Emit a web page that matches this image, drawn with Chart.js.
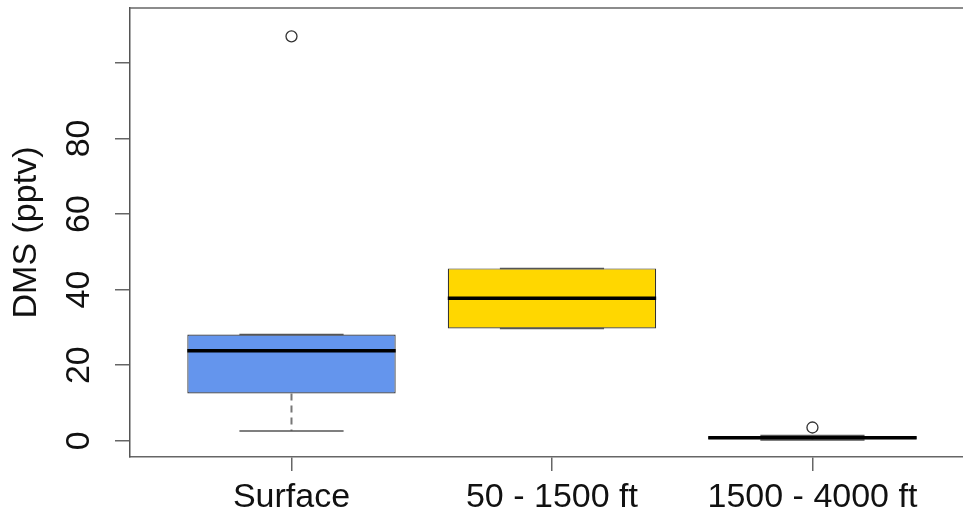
<!DOCTYPE html>
<html>
<head>
<meta charset="utf-8">
<script src="https://cdn.jsdelivr.net/npm/chart.js@4/dist/chart.umd.min.js"></script>
<style>
  html, body { margin: 0; padding: 0; background: #fff; }
</style>
</head>
<body>
<canvas id="grafico" width="963" height="515"></canvas>
<script>
const categorias = ["Surface", "50 - 1500 ft", "1500 - 4000 ft"];
const posicoes = [1, 2, 3];
const q1 = [12.5, 29.7, 0.4];
const mediana = [23.8, 37.7, 0.8];
const q3 = [28.1, 45.6, 1.2];
const bigodeMin = [2.6, 29.7, 0.2];
const bigodeMax = [28.1, 45.6, 1.4];
const outlierPos = [1, 3];
const outlierVal = [107, 3.5];
const yTicks = [0, 20, 40, 60, 80, 100];
const cores = ["#6495ED", "#FFD700", "#888888"];

const fonte = { family: "'Liberation Sans', Arial, sans-serif", size: 34 };

// mediana, bigodes e moldura
const extrasBoxplot = {
  id: "extrasBoxplot",
  afterDatasetsDraw(chart) {
    const { ctx, chartArea, scales: { x, y } } = chart;
    const passo = x.getPixelForValue(2) - x.getPixelForValue(1);
    const meiaCaixa = passo * 0.8 / 2;
    const meiaHaste = meiaCaixa / 2;
    ctx.save();
    posicoes.forEach((p, i) => {
      const cx = x.getPixelForValue(p);
      // bigodes tracejados
      ctx.strokeStyle = "#777";
      ctx.lineWidth = 2;
      ctx.setLineDash([7, 5]);
      ctx.beginPath();
      ctx.moveTo(cx, y.getPixelForValue(q1[i]));
      ctx.lineTo(cx, y.getPixelForValue(bigodeMin[i]));
      ctx.moveTo(cx, y.getPixelForValue(q3[i]));
      ctx.lineTo(cx, y.getPixelForValue(bigodeMax[i]));
      ctx.stroke();
      ctx.setLineDash([]);
      // hastes
      ctx.strokeStyle = "#555";
      ctx.lineWidth = 1.5;
      ctx.beginPath();
      [bigodeMin[i], bigodeMax[i]].forEach(v => {
        const py = y.getPixelForValue(v);
        ctx.moveTo(cx - meiaHaste, py);
        ctx.lineTo(cx + meiaHaste, py);
      });
      ctx.stroke();
      // mediana
      ctx.strokeStyle = "#000";
      ctx.lineWidth = 3.5;
      ctx.beginPath();
      const pm = y.getPixelForValue(mediana[i]);
      ctx.moveTo(cx - meiaCaixa, pm);
      ctx.lineTo(cx + meiaCaixa, pm);
      ctx.stroke();
    });
    // linha de cima da moldura
    ctx.strokeStyle = "#666";
    ctx.lineWidth = 1.5;
    ctx.beginPath();
    ctx.moveTo(chartArea.left, chartArea.top);
    ctx.lineTo(chartArea.right, chartArea.top);
    ctx.stroke();
    ctx.restore();
  },
};

const data_box = {
  datasets: [
    {
      type: "bar",
      data: posicoes.map((p, i) => ({ x: p, y: [q1[i], q3[i]] })),
      backgroundColor: cores,
      borderColor: "#333",
      borderWidth: 1.2,
      borderSkipped: false,
      categoryPercentage: 1,
      barPercentage: 0.8,
    },
    {
      type: "scatter",
      data: outlierPos.map((p, i) => ({ x: p, y: outlierVal[i] })),
      pointStyle: "circle",
      pointRadius: 5.5,
      pointBackgroundColor: "#fff",
      pointBorderColor: "#333",
      pointBorderWidth: 1.3,
    },
  ],
};

const config_box = {
  type: "bar",
  data: data_box,
  plugins: [extrasBoxplot],
  options: {
    responsive: false,
    animation: false,
    layout: { autoPadding: false, padding: { top: 8, right: 0, bottom: 0, left: 0 } },
    plugins: {
      legend: { display: false },
      tooltip: { enabled: false },
    },
    scales: {
      x: {
        type: "linear",
        min: 0.38,
        max: 3.578,
        offset: false,
        afterBuildTicks: (scale) => {
          scale.ticks = posicoes.map(v => ({ value: v }));
        },
        afterFit: (scale) => {
          scale.height = 58;
          scale.paddingLeft = 0;
          scale.paddingRight = 0;
        },
        grid: {
          offset: false,
          drawOnChartArea: false,
          drawTicks: true,
          tickLength: 14,
          color: "#666",
          lineWidth: 1.5,
        },
        border: { display: true, color: "#666", width: 1.5 },
        ticks: {
          autoSkip: false,
          maxRotation: 0,
          padding: 6,
          color: "#111",
          font: fonte,
          callback: (v) => categorias[posicoes.indexOf(v)],
        },
      },
      y: {
        type: "linear",
        min: -4.3,
        max: 114.5,
        afterBuildTicks: (scale) => {
          scale.ticks = yTicks.map(v => ({ value: v }));
        },
        afterFit: (scale) => {
          scale.width = 130;
          scale.paddingTop = 0;
          scale.paddingBottom = 0;
        },
        grid: {
          drawOnChartArea: false,
          drawTicks: true,
          tickLength: 15,
          color: "#666",
          lineWidth: 1.5,
        },
        border: { display: true, color: "#555", width: 1.5 },
        ticks: {
          minRotation: 90,
          maxRotation: 90,
          crossAlign: "center",
          padding: 16,
          color: "#111",
          font: fonte,
          callback: (v) => (v === 100 ? "" : v),
        },
        title: {
          display: true,
          text: "DMS (pptv)",
          color: "#111",
          font: fonte,
          padding: { top: 6, bottom: 0 },
        },
      },
    },
  },
};

const myChart_box = new Chart(
  document.getElementById("grafico"),
  config_box
);
</script>
</body>
</html>
